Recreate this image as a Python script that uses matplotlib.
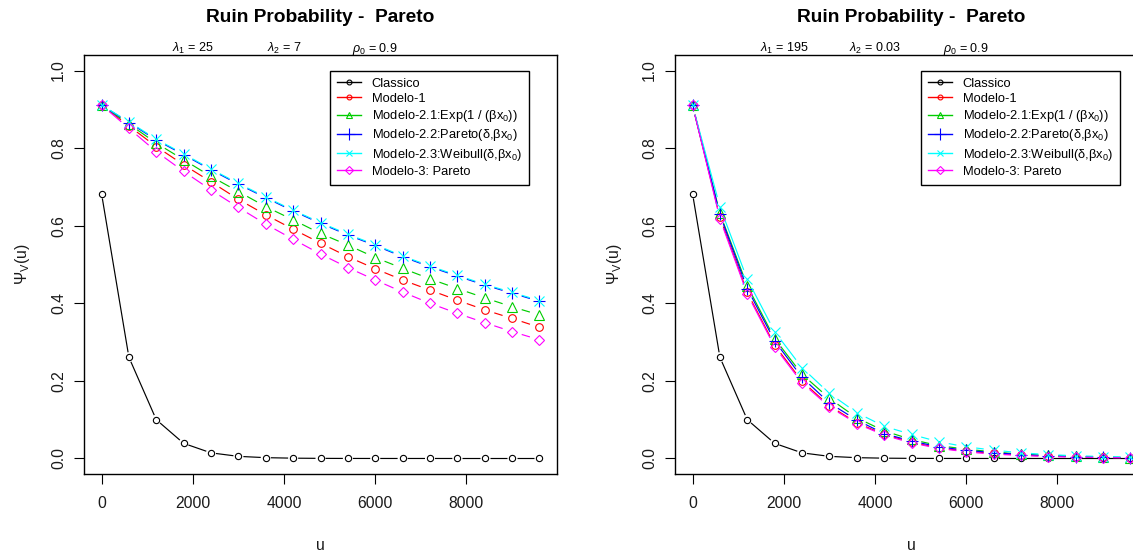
import matplotlib
matplotlib.use('Agg')
import matplotlib.pyplot as plt
import numpy as np
from matplotlib.collections import LineCollection
from matplotlib.lines import Line2D

plt.rcParams['font.family'] = ['Liberation Sans', 'DejaVu Sans']
plt.rcParams['mathtext.fontset'] = 'custom'
plt.rcParams['mathtext.rm'] = 'Liberation Sans'
plt.rcParams['mathtext.it'] = 'Liberation Sans:italic'
plt.rcParams['mathtext.bf'] = 'Liberation Sans:bold'

# reserve u
u = [0, 600, 1200, 1800, 2400, 3000, 3600, 4200, 4800, 5400,
     6000, 6600, 7200, 7800, 8400, 9000, 9600]

classico = [0.683, 0.261, 0.100, 0.039, 0.0145, 0.0055, 0.0021, 0.0008, 0.0003,
            0.0001, 0.00005, 0.00002, 0.00001, 0.0, 0.0, 0.0, 0.0]

# left panel: lambda1 = 25, lambda2 = 7
left_m1 = [0.911, 0.857, 0.804, 0.757, 0.713, 0.668, 0.628, 0.591, 0.555,
           0.520, 0.489, 0.460, 0.434, 0.408, 0.383, 0.361, 0.338]
left_m21 = [0.911, 0.862, 0.813, 0.770, 0.727, 0.688, 0.649, 0.615, 0.580,
            0.550, 0.518, 0.490, 0.463, 0.438, 0.414, 0.391, 0.370]
left_m22 = [0.911, 0.866, 0.821, 0.783, 0.744, 0.707, 0.672, 0.638, 0.606,
            0.576, 0.549, 0.520, 0.494, 0.470, 0.447, 0.426, 0.405]
left_m23 = [0.911, 0.868, 0.823, 0.785, 0.746, 0.709, 0.674, 0.640, 0.608,
            0.578, 0.551, 0.522, 0.496, 0.472, 0.449, 0.428, 0.407]
left_m3 = [0.911, 0.851, 0.791, 0.740, 0.692, 0.647, 0.604, 0.565, 0.527,
           0.492, 0.460, 0.429, 0.400, 0.374, 0.350, 0.327, 0.306]

# right panel: lambda1 = 195, lambda2 = 0.03
right_m1 = [0.911, 0.622, 0.428, 0.292, 0.199, 0.136, 0.092, 0.062, 0.042,
            0.027, 0.019, 0.013, 0.0086, 0.006, 0.004, 0.0027, 0.0018]
right_m21 = [0.911, 0.632, 0.445, 0.309, 0.217, 0.155, 0.105, 0.071, 0.049,
             0.033, 0.024, 0.017, 0.011, 0.008, 0.0055, 0.0037, 0.0025]
right_m22 = [0.911, 0.629, 0.438, 0.303, 0.209, 0.143, 0.099, 0.064, 0.045,
             0.030, 0.021, 0.015, 0.010, 0.007, 0.005, 0.003, 0.002]
right_m23 = [0.911, 0.649, 0.462, 0.327, 0.234, 0.168, 0.118, 0.083, 0.062,
             0.043, 0.030, 0.0215, 0.0146, 0.010, 0.007, 0.005, 0.0035]
right_m3 = [0.911, 0.618, 0.424, 0.288, 0.195, 0.133, 0.090, 0.060, 0.040,
            0.026, 0.017, 0.011, 0.008, 0.005, 0.0035, 0.0024, 0.0016]

labels = ['Classico', 'Modelo-1', 'Modelo-2.1:Exp(1 / (βx$_0$))',
          'Modelo-2.2:Pareto(δ,βx$_0$)', 'Modelo-2.3:Weibull(δ,βx$_0$)',
          'Modelo-3: Pareto']
colors = ['black', '#FF0000', '#00CD00', '#0000FF', '#00FFFF', '#FF00FF']
markers = ['o', 'o', '^', '+', 'x', 'D']
msizes = [4.5, 5.5, 7.2, 8.5, 7.0, 5.5]
gaps = [5, 10, 10, 10, 10, 10]
leg_ms = [3.5, 3.5, 5, 8, 5, 4]

params = [('25', '7'), ('195', '0.03')]


def draw_b(ax, x, y, color, marker, ms, gap):
    # R type="b": points plus line pieces with a gap round each point
    pts = ax.transData.transform(np.column_stack([x, y]))
    inv = ax.transData.inverted()
    segs = []
    for p0, p1 in zip(pts[:-1], pts[1:]):
        d = p1 - p0
        L = np.hypot(d[0], d[1])
        if L > 2 * gap:
            a = p0 + d * gap / L
            b = p1 - d * gap / L
            segs.append(inv.transform([a, b]))
    ax.add_collection(LineCollection(segs, colors=color, linewidths=0.85))
    ax.plot(x, y, linestyle='none', marker=marker, ms=ms, mfc='none',
            mec=color, mew=0.8)


fig = plt.figure(figsize=(11.33, 5.54), dpi=100)
W, H = 1133, 554
ax1 = fig.add_axes([84 / W, 1 - 474 / H, 473 / W, 419 / H])
ax2 = fig.add_axes([675 / W, 1 - 474 / H, 473 / W, 419 / H])

panels = [(ax1, [classico, left_m1, left_m21, left_m22, left_m23, left_m3]),
          (ax2, [classico, right_m1, right_m21, right_m22, right_m23, right_m3])]

for (ax, series), (l1, l2) in zip(panels, params):
    ax.set_xlim(-384, 9984)
    ax.set_ylim(-0.04, 1.04)
    for y, c, m, ms, g in zip(series, colors, markers, msizes, gaps):
        draw_b(ax, u, y, c, m, ms, g)

    ax.set_xticks([0, 2000, 4000, 6000, 8000])
    ax.set_xticklabels(['0', '2000', '4000', '6000', '8000'])
    ax.set_yticks([0.0, 0.2, 0.4, 0.6, 0.8, 1.0])
    ax.set_yticklabels(['0.0', '0.2', '0.4', '0.6', '0.8', '1.0'],
                       rotation=90, va='center')
    ax.tick_params(axis='both', length=7, width=0.8, labelsize=11.3,
                   color='black', labelcolor='#1a1a1a')
    ax.tick_params(axis='x', pad=9)
    ax.tick_params(axis='y', pad=6)
    for s in ax.spines.values():
        s.set_linewidth(1.0)
        s.set_color('black')

    ax.text(0.5, 1 + 37 / 419, 'Ruin Probability -  Pareto', transform=ax.transAxes,
            ha='center', va='center', fontsize=13.8, fontweight='bold')
    tr = ax.get_xaxis_transform()
    ytop = 1 + 3 / 419
    ax.text(2000, ytop, r'$\lambda_1$ = ' + l1, transform=tr, ha='center',
            va='baseline', fontsize=9)
    ax.text(4000, ytop, r'$\lambda_2$ = ' + l2, transform=tr, ha='center',
            va='baseline', fontsize=9)
    ax.text(6000, ytop, r'$\rho_0$ = 0.9', transform=tr, ha='center',
            va='baseline', fontsize=9)

    ax.text(-61 / 473, 0.5, r'$\Psi_{\mathrm{V}}$(u)', transform=ax.transAxes,
            rotation=90, ha='center', va='center', fontsize=11.3, color='#1a1a1a')
    ax.text(0.5, -71 / 419, 'u', transform=ax.transAxes, ha='center',
            va='center', fontsize=11.3, color='#1a1a1a')

    handles = [Line2D([], [], color=c, marker=m, ms=ms, mfc='none', mec=c,
                      mew=0.8, lw=1.0)
               for c, m, ms in zip(colors, markers, leg_ms)]
    leg = ax.legend(handles, labels, loc='upper left', bbox_to_anchor=(5000, 1.0),
                    bbox_transform=ax.transData, fontsize=9.3, frameon=True,
                    fancybox=False, edgecolor='black', framealpha=1,
                    borderaxespad=0, handlelength=1.9, handletextpad=0.8,
                    labelspacing=0.25, borderpad=0.55)
    leg.get_frame().set_linewidth(1.0)

fig.savefig('out.png', dpi=100)
